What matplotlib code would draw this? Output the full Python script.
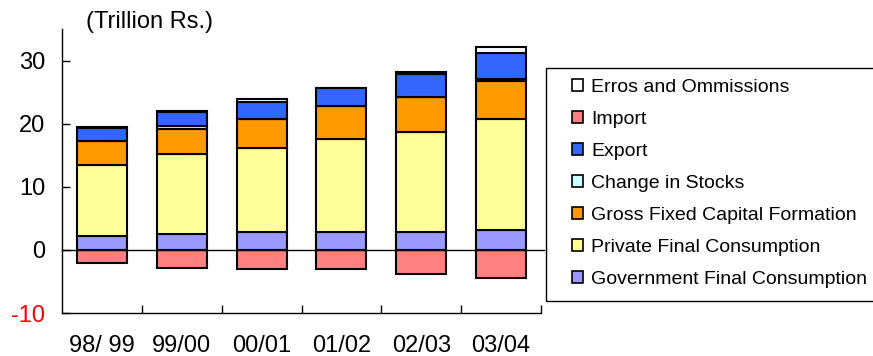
import numpy as np
import matplotlib
matplotlib.use("Agg")
import matplotlib.pyplot as plt
from matplotlib.patches import Patch, Rectangle

plt.rcParams['font.family'] = ['Liberation Sans', 'DejaVu Sans']

# ── Data (trillion Rs.) ──
years = ["98/ 99", "99/00", "00/01", "01/02", "02/03", "03/04"]
gov_consumption = [2.2, 2.55, 2.8, 2.8, 2.8, 3.1]
private_consumption = [11.3, 12.65, 13.3, 14.7, 15.9, 17.6]
gross_fixed_capital = [3.7, 4.0, 4.6, 5.3, 5.5, 6.1]
change_in_stocks = [0.1, 0.5, 0.05, 0.05, 0.1, 0.35]
export = [2.0, 2.2, 2.75, 2.75, 3.6, 4.0]
errors_omissions = [0.25, 0.05, 0.35, 0.05, 0.3, 0.95]
imports = [-2.1, -2.8, -3.0, -3.0, -3.8, -4.5]

# ── Colours ──
C_GOV = "#9999FF"
C_PRIV = "#FFFF99"
C_GFCF = "#FF9900"
C_STOCK = "#CCFFFF"
C_EXP = "#3366FF"
C_ERR = "#FFFFFF"
C_IMP = "#FF8080"

W, H = 873, 356
FS = 17
fig = plt.figure(figsize=(W / 100, H / 100), dpi=100)
ax = fig.add_axes([62 / W, 1 - 313 / H, (541 - 62) / W, (313 - 29) / H])

x = np.arange(len(years))
bw = 0.625
kw = dict(width=bw, edgecolor="black", linewidth=1.5, zorder=3)

stack = [
    (gov_consumption, C_GOV),
    (private_consumption, C_PRIV),
    (gross_fixed_capital, C_GFCF),
    (change_in_stocks, C_STOCK),
    (export, C_EXP),
    (errors_omissions, C_ERR),
]
bottom = np.zeros(len(years))
for vals, col in stack:
    ax.bar(x, vals, bottom=bottom, color=col, **kw)
    bottom += np.array(vals)
ax.bar(x, imports, color=C_IMP, **kw)

ax.axhline(0, xmin=0, xmax=1.007, color="black", lw=1.0, clip_on=False, zorder=4)

ax.set_xlim(-0.5, len(years) - 0.5)
ax.set_ylim(-10, 35)
ax.set_yticks([-10, 0, 10, 20, 30])
ax.set_yticklabels(["-10", "0", "10", "20", "30"], fontsize=FS)
ax.get_yticklabels()[0].set_color("red")
ax.tick_params(axis="y", direction="in", length=6, width=1, pad=12)

ax.set_xticks(x)
ax.set_xticklabels(years, fontsize=FS)
ax.set_xticks(np.arange(0.5, len(years)), minor=True)
ax.tick_params(axis="x", which="major", length=0, pad=15.5)
ax.tick_params(axis="x", which="minor", direction="in", length=6, width=1)

for s in ["top", "right"]:
    ax.spines[s].set_visible(False)
for s in ["left", "bottom"]:
    ax.spines[s].set_linewidth(1.0)

fig.text(86 / W, 1 - 22 / H, "(Trillion Rs.)", fontsize=FS, va="center", ha="left")

# ── Legend ──
fig.patches.append(Rectangle((546 / W, 1 - 301 / H), (900 - 546) / W, (301 - 68) / H,
                             transform=fig.transFigure, facecolor="white",
                             edgecolor="black", lw=1.0, clip_on=False))
labels = ["Erros and Ommissions", "Import", "Export", "Change in Stocks",
          "Gross Fixed Capital Formation", "Private Final Consumption",
          "Government Final Consumption"]
cols = [C_ERR, C_IMP, C_EXP, C_STOCK, C_GFCF, C_PRIV, C_GOV]
handles = [Patch(facecolor=c, edgecolor="black", linewidth=1.2) for c in cols]
fig.legend(handles, labels, loc="upper left", bbox_to_anchor=(572 / W, 1 - 79 / H),
           frameon=False, fontsize=14, handlelength=0.55, handleheight=0.55,
           handletextpad=0.45, labelspacing=0.77, borderaxespad=0, borderpad=0)

fig.savefig("out.png", dpi=100)
